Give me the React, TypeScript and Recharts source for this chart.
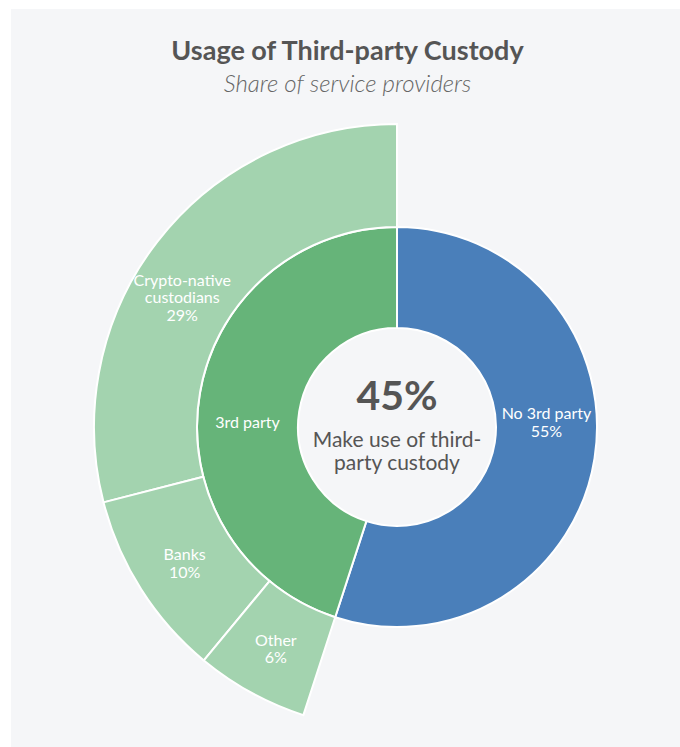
import React from "react";
import { PieChart, Pie, Cell } from "recharts";

// inner ring: who uses third-party custody
const innerNames = ["No 3rd party", "3rd party"];
const innerValues = [55, 45];
const innerShowValue = [true, false];
const innerColors = ["#4a7fba", "#66b479"];

// outer ring: breakdown of the 3rd party share
const outerNames = ["Crypto-native\ncustodians", "Banks", "Other"];
const outerValues = [29, 10, 6];
const outerColor = "#a3d3af";

const title = "Usage of Third-party Custody";
const subtitle = "Share of service providers";
const centerValue = "45%";
const centerLines = ["Make use of third-", "party custody"];

const FONT = "Lato, 'Open Sans', sans-serif";
const RADIAN = Math.PI / 180;
const CX = 397;
const CY = 427;

const innerData = innerNames.map((name, i) => ({
  name,
  value: innerValues[i],
  showValue: innerShowValue[i],
}));
const outerData = outerNames.map((name, i) => ({
  name,
  value: outerValues[i],
  showValue: true,
}));

const LabelText = ({ x, y, lines }: { x: number; y: number; lines: string[] }) => {
  const lh = 17.5;
  const top = y - ((lines.length - 1) * lh) / 2;
  return (
    <text
      x={x}
      y={top}
      textAnchor="middle"
      dominantBaseline="central"
      fill="#ffffff"
      fontSize={16}
      fontFamily={FONT}
    >
      {lines.map((l, i) => (
        <tspan key={i} x={x} y={top + i * lh}>
          {l}
        </tspan>
      ))}
    </text>
  );
};

const linesFor = (p: any) => {
  const lines = String(p.name).split("\n");
  if (p.payload?.showValue) lines.push(`${p.value}%`);
  return lines;
};

// inner labels sit on the horizontal through the centre, at mid radius
const renderInner = (p: any) => {
  const r = (p.innerRadius + p.outerRadius) / 2;
  const side = Math.cos(-p.midAngle * RADIAN) >= 0 ? 1 : -1;
  return <LabelText x={p.cx + side * r} y={p.cy - 6} lines={linesFor(p)} />;
};

// outer labels at mid radius; wide slices lean a bit toward the horizontal
const renderOuter = (p: any) => {
  const r = (p.innerRadius + p.outerRadius) / 2;
  const span = Math.abs(p.endAngle - p.startAngle);
  const a = span > 90 ? p.midAngle + (180 - p.midAngle) * 0.17 : p.midAngle;
  const x = p.cx + r * Math.cos(-a * RADIAN);
  const y = p.cy + r * Math.sin(-a * RADIAN);
  return <LabelText x={x} y={y} lines={linesFor(p)} />;
};

export default function App() {
  return (
    <div style={{ position: "fixed", left: 0, top: 0, width: 680, height: 747, fontFamily: FONT }}>
      <div
        style={{
          position: "absolute",
          left: 11,
          top: 9,
          width: 669,
          height: 738,
          background: "#f5f6f8",
        }}
      />
      <div
        style={{
          position: "absolute",
          left: 13,
          width: 669,
          top: 34,
          textAlign: "center",
          fontSize: 27,
          fontWeight: 700,
          color: "#555555",
          lineHeight: "32px",
        }}
      >
        {title}
      </div>
      <div
        style={{
          position: "absolute",
          left: 13,
          width: 669,
          top: 68,
          textAlign: "center",
          fontSize: 24,
          fontWeight: 300,
          fontStyle: "italic",
          color: "#666666",
          lineHeight: "30px",
        }}
      >
        {subtitle}
      </div>
      <div style={{ position: "absolute", left: 0, top: 0 }}>
        <PieChart width={680} height={747} margin={{ top: 0, right: 0, bottom: 0, left: 0 }}>
          <Pie
            data={innerData}
            dataKey="value"
            nameKey="name"
            cx={CX}
            cy={CY}
            innerRadius={99}
            outerRadius={200}
            startAngle={90}
            endAngle={-270}
            stroke="#ffffff"
            strokeWidth={2}
            label={renderInner}
            labelLine={false}
            isAnimationActive={false}
          >
            {innerData.map((d, i) => (
              <Cell key={d.name} fill={innerColors[i]} />
            ))}
          </Pie>
          <Pie
            data={outerData}
            dataKey="value"
            nameKey="name"
            cx={CX}
            cy={CY}
            innerRadius={200}
            outerRadius={303}
            startAngle={90}
            endAngle={252}
            stroke="#ffffff"
            strokeWidth={2}
            label={renderOuter}
            labelLine={false}
            isAnimationActive={false}
          >
            {outerData.map((d) => (
              <Cell key={d.name} fill={outerColor} />
            ))}
          </Pie>
        </PieChart>
      </div>
      <div
        style={{
          position: "absolute",
          left: CX - 100,
          width: 200,
          top: 371,
          textAlign: "center",
          color: "#555555",
        }}
      >
        <div style={{ fontSize: 41, fontWeight: 700, lineHeight: "48px" }}>{centerValue}</div>
        <div style={{ fontSize: 21, lineHeight: "23px", marginTop: 8 }}>
          {centerLines.map((l) => (
            <div key={l}>{l}</div>
          ))}
        </div>
      </div>
    </div>
  );
}
